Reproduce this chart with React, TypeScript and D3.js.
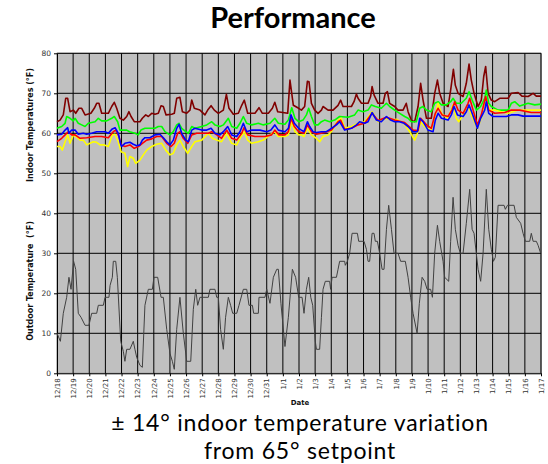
import React, { useRef, useEffect } from 'react';
import * as d3 from 'd3';

// day offsets from 12/18, temperature in °F
const dateLabels = [
  '12/18', '12/19', '12/20', '12/21', '12/22', '12/23', '12/24', '12/25', '12/26', '12/27',
  '12/28', '12/29', '12/30', '12/31', '1/1', '1/2', '1/3', '1/4', '1/5', '1/6',
  '1/7', '1/8', '1/9', '1/10', '1/11', '1/12', '1/13', '1/14', '1/15', '1/16', '1/17'
];
const yTicks = [0, 10, 20, 30, 40, 50, 60, 70, 80];
const captionLines = ['± 14° indoor temperature variation', 'from 65° setpoint'];

const outdoorTemp = [
  [0, 10], [0.21, 8], [0.39, 15], [0.6, 19], [0.74, 24], [0.87, 21], [1.03, 28], [1.16, 26],
  [1.32, 15], [1.49, 14], [1.74, 12], [1.98, 12], [2.15, 15], [2.46, 15], [2.56, 17], [2.87, 17],
  [2.98, 19], [3.22, 19], [3.29, 22], [3.43, 24], [3.49, 28], [3.64, 28], [3.74, 24], [3.95, 8],
  [4.11, 5.5], [4.21, 3], [4.32, 6], [4.52, 6], [4.73, 8], [4.83, 6], [4.94, 4], [5.14, 2],
  [5.29, 1.5], [5.45, 17], [5.66, 21], [5.91, 21], [6.01, 24], [6.24, 24], [6.45, 19], [6.59, 19],
  [6.8, 11], [7.0, 5], [7.15, 3], [7.27, 1], [7.42, 11], [7.62, 19], [7.83, 10], [8.04, 3],
  [8.29, 3], [8.45, 16], [8.6, 21], [8.72, 17], [8.86, 19], [9.38, 19], [9.48, 21], [9.79, 21],
  [9.9, 19], [10.0, 19], [10.14, 11], [10.31, 6], [10.45, 14], [10.62, 19], [10.76, 17], [10.89, 15],
  [11.14, 15], [11.28, 17], [11.55, 21], [11.76, 21], [11.9, 17], [12.11, 17], [12.19, 15], [12.48, 15],
  [12.52, 19], [12.89, 19], [13.0, 21], [13.2, 17.5], [13.41, 24], [13.62, 26], [13.72, 26], [13.88, 17.5],
  [14.13, 6.7], [14.34, 14], [14.59, 26], [14.79, 24], [14.98, 19], [15.19, 19], [15.31, 15], [15.46, 21],
  [15.6, 24], [15.73, 19], [15.85, 17], [16.01, 8], [16.08, 6], [16.28, 6], [16.39, 14], [16.49, 21],
  [16.63, 23], [16.9, 23], [16.96, 21], [17.05, 24], [17.32, 24], [17.42, 26], [17.52, 28], [17.83, 28],
  [17.87, 27], [18.0, 28], [18.14, 30], [18.29, 35], [18.62, 35], [18.7, 33], [19.03, 33], [19.18, 31],
  [19.28, 28], [19.38, 28], [19.53, 35], [19.65, 35], [19.73, 33], [19.86, 33], [20.0, 30], [20.15, 26],
  [20.27, 26], [20.42, 36], [20.56, 42], [20.73, 36], [20.89, 30], [21.14, 30], [21.3, 28], [21.59, 28],
  [21.76, 24], [21.92, 19], [22.07, 15], [22.32, 10], [22.46, 17.5], [22.63, 24], [22.79, 23], [22.94, 21],
  [23.16, 21], [23.27, 19], [23.41, 30], [23.58, 37], [23.72, 33], [23.93, 28], [24.03, 24], [24.28, 23],
  [24.4, 33], [24.55, 44], [24.69, 36], [24.86, 32], [25.0, 30], [25.17, 30], [25.37, 37.5], [25.58, 46],
  [25.73, 36], [25.85, 35], [26.1, 26], [26.26, 23], [26.41, 30], [26.61, 46], [26.76, 36], [26.92, 31],
  [27.05, 28], [27.17, 29], [27.34, 42], [27.71, 42], [27.79, 41], [27.92, 42], [28.33, 42], [28.47, 39],
  [28.74, 37.5], [28.89, 35], [29.03, 33], [29.3, 33], [29.4, 35], [29.51, 33], [29.71, 33], [29.82, 32],
  [29.98, 30]
];

const indoorMaroon = [
  [0, 62.9], [0.19, 63.3], [0.39, 64.6], [0.54, 68.75], [0.66, 68.75], [0.81, 65.4], [1.01, 65.8], [1.16, 65],
  [1.36, 66.25], [1.53, 66.25], [1.74, 64.6], [2.1, 65], [2.31, 66.25], [2.46, 67.5], [2.6, 67.5], [2.77, 65],
  [3.18, 65], [3.39, 66.7], [3.55, 67.75], [3.7, 66.25], [3.9, 63.75], [4.11, 63.3], [4.32, 64.2], [4.46, 65.4],
  [4.59, 64.2], [4.79, 62.9], [5.14, 62.9], [5.29, 63.75], [5.5, 64.6], [5.66, 64.2], [5.87, 65], [6.07, 64.75],
  [6.28, 65], [6.45, 66.9], [6.59, 66.7], [6.76, 64.6], [7.11, 64.75], [7.27, 65], [7.42, 68.75], [7.62, 69],
  [7.77, 65.4], [8.04, 65], [8.24, 65.8], [8.35, 68.3], [8.51, 66.25], [8.86, 65.8], [9.17, 64.6], [9.34, 65.8],
  [9.55, 66.9], [9.75, 65.8], [10.0, 65], [10.31, 65.8], [10.5, 69.75], [10.66, 66.25], [10.93, 64.75], [11.24, 65],
  [11.45, 67], [11.61, 68.3], [11.82, 65], [12.27, 65], [12.52, 66.4], [12.73, 65], [13.1, 65], [13.35, 66.25],
  [13.5, 67.75], [13.68, 65.4], [14.3, 65], [14.44, 73.3], [14.65, 67], [14.98, 66.25], [15.15, 65.8], [15.35, 66.7],
  [15.52, 73], [15.62, 72.9], [15.77, 67.5], [15.97, 65.8], [16.18, 65], [16.39, 65.8], [16.49, 66.7], [16.8, 65.8],
  [17.11, 65.8], [17.42, 67], [17.58, 68.3], [17.73, 66.7], [18.25, 66.7], [18.41, 67.9], [18.56, 69.8], [18.66, 68.75],
  [18.87, 67.5], [19.28, 67.5], [19.44, 69.2], [19.53, 71.7], [19.65, 69.6], [19.9, 67.5], [20.21, 67.5], [20.35, 70],
  [20.48, 70.4], [20.62, 67.5], [20.93, 66.7], [21.14, 65.8], [21.45, 65.8], [21.65, 67.5], [21.76, 65.4], [21.96, 63.3],
  [22.17, 62.9], [22.38, 66.7], [22.54, 72.5], [22.69, 68.3], [22.9, 63.75], [23.2, 63.75], [23.41, 70], [23.58, 73.3],
  [23.72, 70], [23.93, 67.5], [24.24, 66.7], [24.4, 70.8], [24.57, 76], [24.69, 72], [24.86, 70], [25.17, 69.2],
  [25.37, 72.5], [25.54, 77.3], [25.68, 73.3], [25.85, 70], [26.1, 66.7], [26.3, 68.3], [26.45, 74.2], [26.57, 76.7],
  [26.72, 70], [26.92, 68.3], [27.13, 67.9], [27.44, 68.75], [27.96, 68.75], [28.16, 70], [28.58, 70.2], [28.82, 69.3],
  [29.2, 69.2], [29.51, 70], [29.71, 69.3], [30.0, 69.3]
];

const indoorGreen = [
  [0, 61.25], [0.29, 61.7], [0.5, 62.5], [0.6, 64.2], [0.81, 63.75], [1.01, 63.1], [1.12, 63.75], [1.32, 62.5],
  [1.53, 62.1], [1.74, 61.7], [1.94, 62.5], [2.36, 62.9], [2.56, 63.75], [2.77, 63.1], [3.08, 63.1], [3.39, 63.75],
  [3.55, 64.2], [3.76, 62.9], [3.9, 60.8], [4.32, 60.8], [4.5, 60.4], [4.83, 60], [5.04, 59.6], [5.2, 60.8],
  [5.45, 61.25], [5.76, 61.25], [6.07, 61.25], [6.28, 61.7], [6.49, 61.7], [6.69, 60.4], [7.0, 59.6], [7.21, 60.4],
  [7.42, 62.1], [7.56, 62.5], [7.73, 61.25], [7.98, 60.4], [8.14, 60], [8.35, 61.7], [8.55, 61.25], [8.97, 61.7],
  [9.28, 62.1], [9.59, 62.9], [9.79, 62.1], [10.1, 61.7], [10.31, 62.1], [10.62, 63.75], [10.83, 61.7], [11.14, 61.25],
  [11.34, 62.5], [11.55, 64.2], [11.76, 62.5], [12.07, 62.1], [12.48, 62.5], [12.79, 62.1], [13.2, 62.5], [13.5, 63.75],
  [13.72, 62.5], [14.13, 62.25], [14.34, 63.3], [14.55, 66.4], [14.75, 63.75], [14.98, 62.9], [15.25, 63.3], [15.46, 64.6],
  [15.6, 66.25], [15.77, 64.2], [15.97, 62.1], [16.18, 62.1], [16.39, 62.9], [16.59, 63.3], [16.9, 62.9], [17.21, 63.3],
  [17.52, 64.2], [18.04, 64], [18.45, 64.6], [18.66, 65.8], [18.97, 65.4], [19.28, 65.8], [19.49, 67.1], [19.73, 66.7],
  [20.1, 66.25], [20.42, 67.5], [20.62, 66.7], [20.93, 65.8], [21.24, 65], [21.55, 64.2], [21.76, 63.75], [21.96, 62.9],
  [22.27, 62.9], [22.48, 66.25], [22.69, 66.7], [22.9, 65.8], [23.2, 65.4], [23.41, 67.5], [23.62, 67.9], [23.83, 67.1],
  [24.13, 67.1], [24.4, 67.9], [24.55, 68.75], [24.75, 67.5], [25.06, 67.5], [25.37, 68.75], [25.54, 70.4], [25.73, 68.3],
  [26.0, 65.8], [26.26, 66.7], [26.51, 68.75], [26.61, 70.8], [26.76, 67.5], [26.92, 66.7], [27.34, 65.8], [27.96, 65.8],
  [28.16, 67.5], [28.37, 67.9], [28.68, 66.8], [29.2, 67.5], [29.61, 67.1], [30.0, 67.3]
];

const indoorYellow = [
  [0, 56.7], [0.19, 56.7], [0.33, 55.8], [0.5, 57.9], [0.66, 59.6], [0.81, 57.5], [1.01, 59.6], [1.16, 59.2],
  [1.43, 58.3], [1.63, 58.3], [1.84, 57.1], [2.05, 57.5], [2.25, 57.9], [2.46, 57.75], [2.67, 57.1], [2.93, 57.1],
  [3.18, 56.7], [3.43, 59.6], [3.6, 59.75], [3.8, 57.9], [3.97, 55.4], [4.21, 55], [4.38, 51.7], [4.52, 54.2],
  [4.73, 53.75], [4.88, 52.5], [5.14, 53.3], [5.35, 54.6], [5.56, 55.8], [5.87, 56.7], [6.18, 57.25], [6.49, 57.5],
  [6.74, 55.8], [7.0, 54.6], [7.21, 55], [7.42, 57.1], [7.62, 58.3], [7.83, 56.7], [8.1, 55], [8.35, 56.7],
  [8.55, 57.9], [8.97, 58.3], [9.38, 60], [9.63, 58.75], [9.9, 58.3], [10.2, 57.9], [10.52, 60], [10.83, 57.5],
  [11.14, 57.1], [11.41, 59.2], [11.61, 60.4], [11.82, 58.3], [12.07, 57.5], [12.48, 57.9], [12.79, 58.3], [13.2, 59.6],
  [13.5, 60.4], [13.72, 59.2], [14.13, 59.2], [14.34, 59.6], [14.55, 62.9], [14.75, 60.4], [14.98, 59.6], [15.15, 59.6],
  [15.31, 59.2], [15.52, 61.25], [15.77, 59.6], [16.08, 58.75], [16.28, 57.9], [16.49, 59.2], [16.8, 59.6], [17.01, 60.4],
  [17.42, 63.3], [17.62, 63.75], [17.83, 61.25], [18.25, 61.7], [18.66, 62.5], [19.07, 62.9], [19.53, 65.4], [19.9, 62.9],
  [20.42, 63.75], [20.73, 63.3], [21.03, 63.5], [21.51, 62.5], [21.86, 60.4], [22.17, 58.3], [22.34, 60], [22.54, 62.9],
  [22.79, 61.7], [23.2, 60.8], [23.45, 64.6], [23.62, 67.5], [23.83, 65], [24.24, 63.75], [24.55, 67.1], [24.75, 63.75],
  [24.9, 62.9], [25.17, 64.6], [25.48, 67.1], [25.68, 64.6], [26.06, 61.25], [26.3, 63.75], [26.57, 68.3], [26.82, 65.8],
  [27.13, 65.8], [27.54, 65.4], [27.96, 65], [28.58, 65.8], [29.2, 65.8], [29.81, 65.8], [30.0, 65.8]
];

const indoorRed = [
  [0, 57.9], [0.29, 58.75], [0.5, 59.6], [0.7, 60.4], [0.91, 59.6], [1.12, 59.6], [1.43, 58.75], [1.84, 58.9],
  [2.36, 59.2], [2.77, 59.2], [3.18, 58.9], [3.49, 60.4], [3.64, 60.8], [3.84, 59.2], [3.97, 57.1], [4.21, 56.7],
  [4.52, 57.1], [4.79, 56.25], [5.04, 56.7], [5.29, 57.5], [5.56, 58.3], [5.87, 58.6], [6.18, 59.2], [6.49, 59.2],
  [6.8, 57.5], [7.07, 56.7], [7.27, 57.5], [7.48, 60], [7.62, 60.4], [7.83, 58.75], [8.1, 57.5], [8.35, 59.6],
  [8.66, 60], [9.07, 60], [9.38, 60], [9.59, 60.4], [9.9, 59.6], [10.2, 58.75], [10.52, 60.8], [10.83, 58.75],
  [11.14, 58.3], [11.45, 60], [11.59, 61.4], [11.82, 59.6], [12.27, 59.2], [12.89, 59.2], [13.3, 59.6], [13.5, 60.8],
  [13.76, 59.6], [14.13, 59.6], [14.34, 60.4], [14.5, 63.75], [14.71, 61.7], [14.98, 60.4], [15.31, 60], [15.52, 62.1],
  [15.77, 60.4], [16.08, 59.8], [16.59, 60.2], [17.01, 60.8], [17.42, 62.9], [17.58, 63.3], [17.83, 61], [18.25, 61.25],
  [18.66, 62.1], [19.07, 62.5], [19.53, 65], [19.9, 63.2], [20.42, 64], [20.93, 63.3], [21.55, 62.7], [22.07, 60.8],
  [22.38, 60.7], [22.54, 63.75], [22.9, 62.1], [23.2, 61.25], [23.45, 65], [23.62, 66.25], [23.87, 64.6], [24.24, 64.2],
  [24.48, 65.8], [24.65, 67.9], [24.86, 65.8], [25.17, 65], [25.48, 67.5], [25.58, 68.75], [25.79, 65.8], [26.06, 62.1],
  [26.3, 64.6], [26.57, 69.2], [26.76, 65.8], [27.13, 65], [27.75, 65.2], [28.16, 65.8], [28.68, 65.8], [29.4, 65.2],
  [30.0, 65.2]
];

const indoorBlue = [
  [0, 59.6], [0.29, 59.75], [0.5, 60.8], [0.66, 61.4], [0.74, 60], [0.91, 60.8], [1.12, 60.8], [1.32, 59.75],
  [1.63, 60], [1.84, 59.75], [2.15, 60], [2.46, 60.4], [2.98, 60.4], [3.18, 60], [3.43, 61.1], [3.6, 61.4],
  [3.8, 60], [3.95, 57.25], [4.0, 56.7], [4.21, 57.5], [4.52, 57.75], [4.73, 57.25], [4.94, 56.9], [5.14, 57.1],
  [5.29, 58.3], [5.45, 58.9], [5.76, 58.9], [6.07, 59.6], [6.38, 59.75], [6.59, 58.9], [6.8, 57.9], [7.0, 57.1],
  [7.21, 58.3], [7.42, 61.25], [7.56, 62.25], [7.73, 60], [7.98, 58.3], [8.14, 57.9], [8.35, 60.8], [8.55, 61.25],
  [8.97, 60.8], [9.28, 60.8], [9.55, 61.25], [9.79, 60], [10.1, 59.6], [10.31, 60.4], [10.58, 61.7], [10.83, 59.6],
  [11.14, 59.2], [11.34, 60.4], [11.55, 62.5], [11.76, 60.4], [12.07, 60.8], [12.58, 60.8], [13.0, 60.4], [13.26, 60.8],
  [13.5, 62.1], [13.72, 60.8], [14.13, 60.4], [14.34, 61.25], [14.5, 64.6], [14.71, 62.5], [14.98, 61.25], [15.15, 60.8],
  [15.31, 60.4], [15.52, 62.9], [15.66, 61.7], [15.87, 60.4], [16.08, 60.2], [16.39, 60.4], [16.7, 60.4], [17.01, 61.25],
  [17.32, 62.1], [17.52, 62.9], [17.83, 60.8], [18.25, 61.25], [18.56, 62.1], [18.76, 62.9], [19.07, 62.5], [19.28, 62.9],
  [19.53, 65.2], [19.8, 63.3], [20.1, 62.9], [20.42, 64.2], [20.68, 63.3], [20.93, 62.9], [21.24, 62.9], [21.51, 62.5],
  [21.76, 61.7], [22.07, 60.4], [22.34, 60.4], [22.48, 63.75], [22.69, 62.9], [23.0, 60.8], [23.31, 60.4], [23.45, 63.3],
  [23.62, 65], [23.83, 63.75], [24.24, 63.3], [24.44, 64.6], [24.61, 66.7], [24.82, 64.6], [25.17, 64.2], [25.37, 65.4],
  [25.54, 67.1], [25.73, 65], [26.06, 61.25], [26.26, 63.75], [26.51, 65.8], [26.61, 67.9], [26.76, 65], [27.03, 64.2],
  [27.34, 64.2], [27.85, 64.2], [28.16, 64.6], [28.58, 64.6], [28.89, 64.3], [29.4, 64.3], [30.0, 64.3]
];

function App() {
  const svgRef = useRef<SVGSVGElement>(null);

  useEffect(() => {
    const svg = d3.select(svgRef.current);
    svg.selectAll('*').remove();

    const left = 57, right = 541, top = 53.3, bottom = 373.3;

    const x = d3.scaleLinear().domain([0, dateLabels.length - 1]).range([left, right]);
    const y = d3.scaleLinear().domain([0, 80]).range([bottom, top]);

    // plot background
    svg.append('rect')
      .attr('x', left).attr('y', top)
      .attr('width', right - left).attr('height', bottom - top)
      .attr('fill', '#c0c0c0')
      .attr('stroke', '#808080');

    // grid
    svg.append('g')
      .selectAll('line')
      .data(yTicks.slice(1))
      .enter()
      .append('line')
      .attr('x1', left).attr('x2', right)
      .attr('y1', d => y(d)).attr('y2', d => y(d))
      .attr('stroke', '#000')
      .attr('stroke-width', 1);

    svg.append('g')
      .selectAll('line')
      .data(d3.range(1, dateLabels.length))
      .enter()
      .append('line')
      .attr('x1', d => x(d)).attr('x2', d => x(d))
      .attr('y1', top).attr('y2', bottom)
      .attr('stroke', '#000')
      .attr('stroke-width', 1);

    // axes
    const yAxis = svg.append('g')
      .attr('transform', `translate(${left},0)`)
      .call(d3.axisLeft(y).tickValues(yTicks).tickSize(3).tickSizeOuter(0).tickPadding(3));
    yAxis.selectAll('text')
      .style('font-family', 'DejaVu Sans, sans-serif')
      .style('font-size', '7.5px')
      .attr('fill', '#333');

    const xAxis = svg.append('g')
      .attr('transform', `translate(0,${bottom})`)
      .call(d3.axisBottom(x).tickValues(d3.range(dateLabels.length))
        .tickFormat((d: any) => dateLabels[d]).tickSize(3).tickSizeOuter(0));
    xAxis.selectAll('text')
      .attr('transform', 'rotate(-90)')
      .attr('x', -5).attr('y', 0).attr('dy', '0.32em')
      .style('text-anchor', 'end')
      .style('font-family', 'DejaVu Sans, sans-serif')
      .style('font-size', '7px')
      .attr('fill', '#333');

    // series
    const line = d3.line<number[]>()
      .x(d => x(d[0]))
      .y(d => y(d[1]));

    const series: [number[][], string, number][] = [
      [outdoorTemp, '#404040', 1],
      [indoorMaroon, '#800000', 1.6],
      [indoorGreen, '#00ff00', 1.6],
      [indoorYellow, '#ffff00', 1.6],
      [indoorRed, '#ff0000', 1.6],
      [indoorBlue, '#0000ff', 1.6]
    ];
    series.forEach(([data, color, w]) => {
      svg.append('path')
        .datum(data)
        .attr('d', line)
        .attr('fill', 'none')
        .attr('stroke', color)
        .attr('stroke-width', w)
        .attr('stroke-linejoin', 'round');
    });

    // axis titles
    svg.append('text')
      .text('Indoor Temperatures (°F)')
      .attr('transform', 'translate(33,125) rotate(-90)')
      .style('text-anchor', 'middle')
      .style('font-family', 'DejaVu Sans, sans-serif')
      .style('font-weight', 'bold')
      .style('font-size', '8px')
      .attr('fill', '#111');

    svg.append('text')
      .text('Outdoor Temperature  (°F)')
      .attr('transform', 'translate(33,281) rotate(-90)')
      .style('text-anchor', 'middle')
      .style('font-family', 'DejaVu Sans, sans-serif')
      .style('font-weight', 'bold')
      .style('font-size', '8px')
      .style('white-space', 'pre')
      .attr('fill', '#111');

    svg.append('text')
      .text('Date')
      .attr('x', 300).attr('y', 405)
      .style('text-anchor', 'middle')
      .style('font-family', 'DejaVu Sans, sans-serif')
      .style('font-weight', 'bold')
      .style('font-size', '7px')
      .attr('fill', '#111');

    // title and caption
    svg.append('text')
      .text('Performance')
      .attr('x', 293).attr('y', 28)
      .style('text-anchor', 'middle')
      .style('font-family', 'Lato, sans-serif')
      .style('font-weight', 'bold')
      .style('font-size', '29px')
      .attr('fill', '#000');

    svg.append('g')
      .selectAll('text')
      .data(captionLines)
      .enter()
      .append('text')
      .attr('x', 300)
      .attr('y', (d, i) => 431 + i * 27.8)
      .text(d => d)
      .style('text-anchor', 'middle')
      .style('font-family', 'Lato, sans-serif')
      .style('font-size', '23px')
      .style('letter-spacing', '0.8px')
      .attr('fill', '#000');
  }, []);

  return (
    <svg ref={svgRef} width={548} height={464}
      style={{ position: 'absolute', left: 0, top: 0, background: '#fff' }} />
  );
}

export default App;
